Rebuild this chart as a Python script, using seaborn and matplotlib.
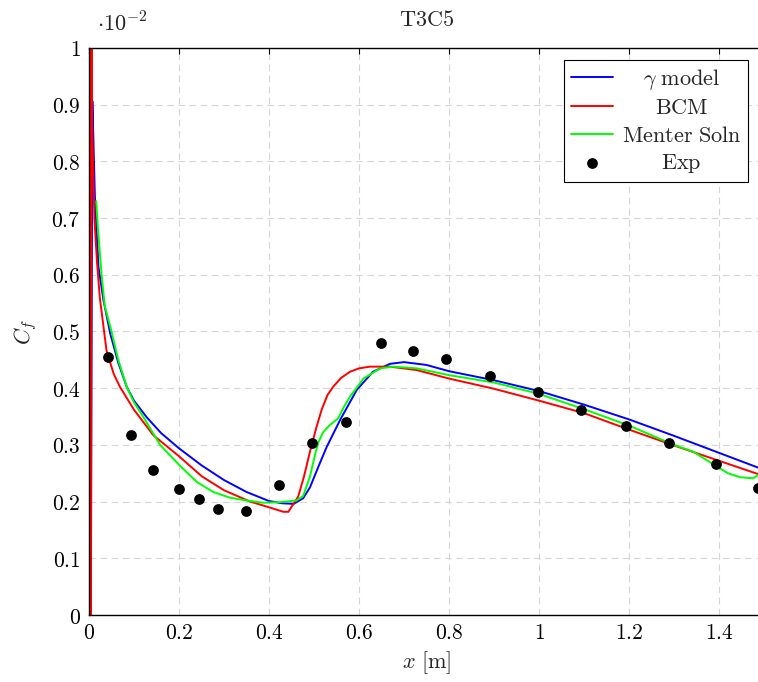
import pandas as pd
import seaborn as sns
import matplotlib.pyplot as plt
from matplotlib.ticker import FuncFormatter, MultipleLocator

# gamma model
gamma_x = [0.004, 0.0075, 0.0085, 0.013, 0.021, 0.032, 0.047, 0.065, 0.084, 0.1, 0.128, 0.16,
           0.2, 0.25, 0.3, 0.35, 0.4, 0.43, 0.455, 0.476, 0.491, 0.51, 0.528, 0.558, 0.595,
           0.631, 0.669, 0.7, 0.75, 0.8, 0.9, 1.0, 1.1, 1.2, 1.3, 1.4, 1.5]
gamma_y = [0.0, 0.906, 0.876, 0.74, 0.614, 0.556, 0.497, 0.445, 0.402, 0.378, 0.349, 0.321,
           0.294, 0.264, 0.238, 0.217, 0.201, 0.197, 0.196, 0.206, 0.225, 0.262, 0.296, 0.344, 0.397,
           0.429, 0.443, 0.446, 0.441, 0.430, 0.414, 0.395, 0.371, 0.345, 0.316, 0.286, 0.256]

# BCM
bcm_x = [0.002, 0.003, 0.0045, 0.0055, 0.0065, 0.012, 0.018, 0.024, 0.039, 0.055, 0.069, 0.1,
         0.143, 0.2, 0.25, 0.3, 0.358, 0.4, 0.432, 0.443, 0.465, 0.478, 0.491, 0.505, 0.517,
         0.53, 0.543, 0.56, 0.58, 0.6, 0.624, 0.669, 0.728, 0.8, 0.9, 1.0, 1.1, 1.2, 1.3, 1.4, 1.5]
bcm_y = [0.0, 1.3, 0.0, 1.3, 0.875, 0.70, 0.62, 0.56, 0.466, 0.425, 0.402, 0.362,
         0.317, 0.280, 0.245, 0.220, 0.200, 0.190, 0.182, 0.182, 0.209, 0.245, 0.288, 0.330, 0.362,
         0.388, 0.403, 0.418, 0.429, 0.435, 0.438, 0.438, 0.432, 0.417, 0.399, 0.378, 0.356, 0.327,
         0.299, 0.272, 0.245]

# Menter solution
menter_x = [0.016, 0.02, 0.028, 0.035, 0.05, 0.065, 0.084, 0.1, 0.121, 0.158, 0.2, 0.239,
            0.276, 0.313, 0.35, 0.387, 0.424, 0.461, 0.476, 0.491, 0.503, 0.51, 0.52, 0.535,
            0.554, 0.565, 0.58, 0.61, 0.647, 0.676, 0.728, 0.8, 0.9, 1.0, 1.1, 1.2, 1.3,
            1.343, 1.395, 1.42, 1.447, 1.476, 1.487, 1.5]
menter_y = [0.73, 0.68, 0.60, 0.545, 0.50, 0.45, 0.402, 0.375, 0.349, 0.300, 0.265, 0.235,
            0.217, 0.207, 0.202, 0.198, 0.199, 0.202, 0.210, 0.244, 0.285, 0.305, 0.322, 0.335,
            0.347, 0.365, 0.385, 0.417, 0.435, 0.438, 0.435, 0.423, 0.410, 0.390, 0.363, 0.334, 0.300,
            0.288, 0.262, 0.250, 0.243, 0.241, 0.247, 0.255]

# experiment
exp_x = [0.042, 0.093, 0.142, 0.2, 0.244, 0.287, 0.349, 0.422, 0.496, 0.571, 0.649, 0.72,
         0.793, 0.891, 0.998, 1.093, 1.193, 1.289, 1.393, 1.487]
exp_y = [0.455, 0.317, 0.256, 0.222, 0.205, 0.187, 0.183, 0.229, 0.303, 0.340, 0.48, 0.466,
         0.451, 0.421, 0.393, 0.362, 0.333, 0.303, 0.266, 0.224]

sns.set_style("white")
plt.rcParams["mathtext.fontset"] = "cm"
plt.rcParams["font.family"] = ["DejaVu Serif"]

fig = plt.figure(figsize=(7.58, 6.82), dpi=100)
ax = fig.add_axes([89 / 758, 1 - 615 / 682, 675 / 758, 567 / 682])

lw = 1.4
sns.lineplot(x=gamma_x, y=gamma_y, sort=False, estimator=None, color="#0000ff", lw=lw,
             label=r"$\gamma\ \mathrm{model}$", ax=ax)
sns.lineplot(x=bcm_x, y=bcm_y, sort=False, estimator=None, color="#ff0000", lw=lw,
             label=r"$\mathrm{BCM}$", ax=ax)
sns.lineplot(x=menter_x, y=menter_y, sort=False, estimator=None, color="#00ff00", lw=lw,
             label=r"$\mathrm{Menter\ Soln}$", ax=ax)
sns.scatterplot(x=exp_x, y=exp_y, color="black", s=60, linewidth=0, zorder=5,
                label=r"$\mathrm{Exp}$", ax=ax)

ax.set_xlim(0, 1.5)
ax.set_ylim(0, 1)
ax.xaxis.set_major_locator(MultipleLocator(0.2))
ax.yaxis.set_major_locator(MultipleLocator(0.1))
fmt = FuncFormatter(lambda v, p: f"${v:.1f}$".replace(".0$", "$"))
ax.xaxis.set_major_formatter(fmt)
ax.yaxis.set_major_formatter(fmt)
ax.tick_params(direction="in", length=4, width=0.8, top=True, right=True,
               labelsize=15.5, colors="black")
ax.tick_params(axis="y", pad=6)
ax.tick_params(axis="x", pad=5)
for s in ax.spines.values():
    s.set_color("black")
    s.set_linewidth(1.0)

ax.grid(True, ls=(0, (6, 4)), color="#d5d5d5", lw=0.8)
ax.set_axisbelow(True)

ax.set_xlabel(r"$x\ [\mathrm{m}]$", fontsize=16, va="center")
ax.xaxis.set_label_coords(0.5, -(663 - 615) / 567)
ax.set_ylabel(r"$C_f$", fontsize=16, va="center")
ax.yaxis.set_label_coords(-(89 - 26) / 675, 0.5)
ax.text(0.5, 1 + (48 - 20) / 567, r"$\mathrm{T3C5}$", transform=ax.transAxes,
        ha="center", va="center", fontsize=16)
fig.text(97 / 758, 1 - 32 / 682, r"$\cdot 10^{-2}$", ha="left", va="baseline", fontsize=16)

leg = ax.legend(loc="upper right", bbox_to_anchor=(1 - 16 / 675, 1 - 12 / 567),
                borderaxespad=0, fancybox=False, edgecolor="black", framealpha=1,
                fontsize=16, handlelength=1.9, handletextpad=0.4, labelspacing=0.25,
                borderpad=0.3, scatterpoints=1)
leg.get_frame().set_linewidth(0.8)

# center legend texts like pgfplots
fig.canvas.draw()
texts = leg.get_texts()
widths = [t.get_window_extent().width for t in texts]
W = max(widths)
for t, w in zip(texts, widths):
    t.set_position(((W - w) / 2, 0))

fig.savefig("out.png", dpi=100)
